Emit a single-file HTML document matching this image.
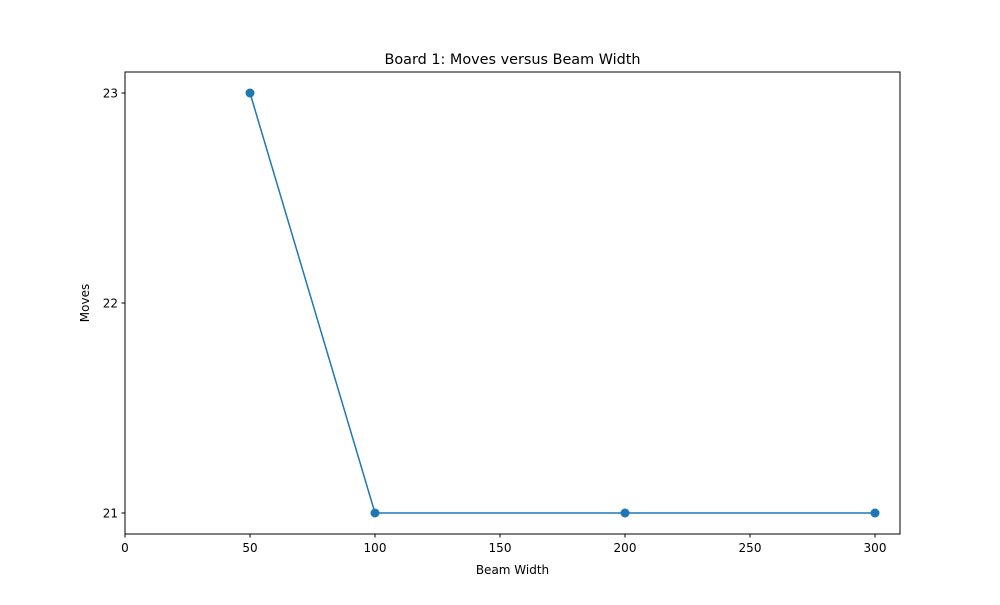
<!DOCTYPE html>
<html><head><meta charset="utf-8"><style>
body{margin:0;background:#fff}
svg{font-family:"DejaVu Sans","Liberation Sans",sans-serif}
</style></head><body>
<svg width="1000" height="600">
<g id="root"></g>
</svg>
<script>
const beamWidths=[50,100,200,300];
const moves=[23,21,21,21];
const xTicks=[0,50,100,150,200,250,300];
const yTicks=[21,22,23];
const L=125,R=900,T=72,B=534;
const xMin=0,xMax=310,yMin=20.9,yMax=23.1;
const sx=v=>L+(v-xMin)/(xMax-xMin)*(R-L);
const sy=v=>B-(v-yMin)/(yMax-yMin)*(B-T);
const NS='http://www.w3.org/2000/svg';
const root=document.getElementById('root');
function mk(tag,attrs,text){const e=document.createElementNS(NS,tag);for(const k in attrs)e.setAttribute(k,attrs[k]);if(text!==undefined)e.textContent=text;root.appendChild(e);return e;}
let e;
e=mk('rect',{x:L,y:T,width:R-L,height:B-T,fill:'none',stroke:'#000','stroke-width':1});


xTicks.forEach(t=>{
 e=mk('line',{x1:sx(t),x2:sx(t),y1:B,y2:B+3.5,stroke:'#000'});
 
 
 e=mk('text',{x:sx(t),y:B+18,'text-anchor':'middle','font-size':12},t);
 
 
});
yTicks.forEach(t=>{
 e=mk('line',{x1:L-3.5,x2:L,y1:sy(t),y2:sy(t),stroke:'#000'});
 
 
 e=mk('text',{x:L-7,y:sy(t)+4.5,'text-anchor':'end','font-size':12},t);
 
 
});
e=mk('polyline',{points:beamWidths.map((b,i)=>sx(b)+','+sy(moves[i])).join(' '),fill:'none',stroke:'#1f77b4','stroke-width':1.5});


beamWidths.forEach((b,i)=>{
 e=mk('circle',{cx:sx(b),cy:sy(moves[i]),r:4.5,fill:'#1f77b4'});
 
 
});
e=mk('text',{x:(L+R)/2,y:64,'text-anchor':'middle','font-size':14.4},'Board 1: Moves versus Beam Width');


e=mk('text',{x:(L+R)/2,y:574,'text-anchor':'middle','font-size':12},'Beam Width');


e=mk('text',{x:89,y:(T+B)/2,'text-anchor':'middle','font-size':12,transform:'rotate(-90 89 '+(T+B)/2+')'},'Moves');


</script>
</body></html>
